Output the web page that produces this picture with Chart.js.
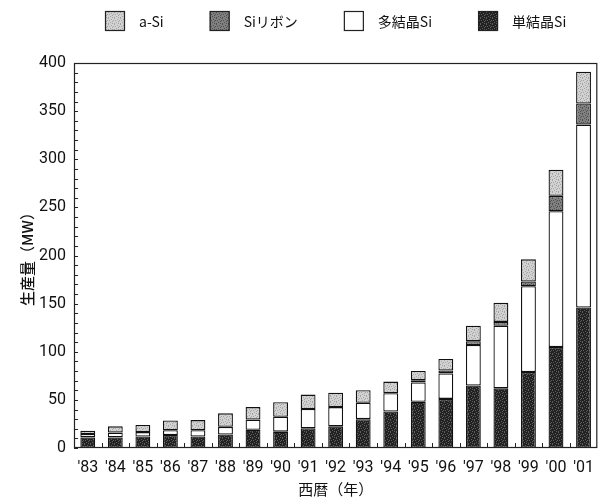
<!DOCTYPE html>
<html>
<head>
<meta charset="utf-8">
<script src="https://cdn.jsdelivr.net/npm/chart.js@4.4.1/dist/chart.umd.min.js"></script>
<style>
  html, body { margin: 0; padding: 0; background: #fff; }
  #wrap { width: 604px; height: 498px; }
</style>
</head>
<body>
<div id="wrap"><canvas id="c" width="604" height="498"></canvas></div>
<script>
// Annual production by cell type (MW)
const years    = ["'83","'84","'85","'86","'87","'88","'89","'90","'91","'92","'93","'94","'95","'96","'97","'98","'99","'00","'01"];
const monoSi   = [11, 11, 12, 13.5, 12, 14, 19, 17, 20.5, 22.5, 30, 38, 48, 51, 65, 62, 79, 105, 146];
const polySi   = [3.5, 5, 4.5, 5, 6.5, 8, 10.5, 15.5, 20, 20, 17, 19, 20, 26.5, 42, 65, 89, 141, 190];
const ribbonSi = [0, 0, 0, 0, 0, 0, 0, 0, 0, 0, 0, 0, 2.5, 3, 4, 4, 5, 16, 22];
const aSi      = [3.5, 6.5, 7.5, 10, 10.5, 14, 13, 15, 15, 15, 13, 12, 9.5, 12, 16, 20, 23, 27, 33];
const yTicks   = [0, 50, 100, 150, 200, 250, 300, 350, 400];

const canvas = document.getElementById('c');
const ctx = canvas.getContext('2d');

// stippled fills for the bar segments (fixed dot layout in a 6x6 tile)
const dotCells = [[0,0],[3,1],[1,2],[5,2],[2,4],[4,3],[0,5],[4,5]];
function stipple(base, dot) {
  const t = document.createElement('canvas');
  t.width = 6; t.height = 6;
  const g = t.getContext('2d');
  g.fillStyle = base; g.fillRect(0, 0, 6, 6);
  g.fillStyle = dot;
  dotCells.forEach(([cx, cy]) => g.fillRect(cx, cy, 1, 1));
  return ctx.createPattern(t, 'repeat');
}
const fillMono   = stipple('#222222', '#5e5e5e');
const fillPoly   = '#ffffff';
const fillRibbon = stipple('#808080', '#505050');
const fillASi    = stipple('#d2d2d2', '#a4a4a4');

const numFont = { family: "Roboto, sans-serif", size: 16 };
const jpFont  = "'Noto Sans CJK JP', sans-serif";

function ds(label, data, fill) {
  return {
    label, data,
    backgroundColor: fill,
    borderColor: '#111',
    borderWidth: 1.3,
    borderSkipped: false,
    categoryPercentage: 1.0,
    barPercentage: 0.54
  };
}

// frame, inward ticks and legend row
const decorations = {
  id: 'decorations',
  afterDatasetsDraw(chart) {
    const c = chart.ctx, a = chart.chartArea;
    const x = chart.scales.x, y = chart.scales.y;
    c.save();
    c.strokeStyle = '#222';
    c.lineWidth = 1;
    // ticks on the value axis, every 10
    c.beginPath();
    for (let v = 0; v <= 400; v += 10) {
      const py = Math.round(y.getPixelForValue(v)) + 0.5;
      c.moveTo(a.left, py); c.lineTo(a.left + 4, py);
    }
    // ticks between categories on the bottom axis
    for (let i = 0; i < years.length - 1; i++) {
      const px = Math.round((x.getPixelForValue(i) + x.getPixelForValue(i + 1)) / 2) + 0.5;
      c.moveTo(px, a.bottom); c.lineTo(px, a.bottom - 5);
    }
    c.stroke();
    c.lineWidth = 1.2;
    c.strokeRect(a.left + 0.5, a.top + 0.5, a.right - a.left - 1, a.bottom - a.top - 1);

    // legend
    const items = [3, 2, 1, 0].map(i => chart.data.datasets[i]);
    c.font = '14px ' + jpFont;
    c.textBaseline = 'middle';
    const box = 20, gapText = 14, gapItem = 46;
    const widths = items.map(d => box + gapText + c.measureText(d.label).width);
    const total = widths.reduce((s, w) => s + w, 0) + gapItem * (items.length - 1);
    let lx = Math.round((a.left + a.right) / 2 - total / 2);
    const cy = 21;
    items.forEach((d, k) => {
      c.fillStyle = d.backgroundColor;
      c.fillRect(lx, cy - box / 2, box, box);
      c.lineWidth = 1.2;
      c.strokeStyle = '#222';
      c.strokeRect(lx + 0.5, cy - box / 2 + 0.5, box - 1, box - 1);
      c.fillStyle = '#111';
      c.fillText(d.label, lx + box + gapText, cy + 1);
      lx += widths[k] + gapItem;
    });
    c.restore();
  }
};

new Chart(ctx, {
  type: 'bar',
  data: {
    labels: years,
    datasets: [
      ds('単結晶Si', monoSi, fillMono),
      ds('多結晶Si', polySi, fillPoly),
      ds('Siリボン', ribbonSi, fillRibbon),
      ds('a-Si', aSi, fillASi)
    ]
  },
  options: {
    responsive: false,
    animation: false,
    layout: { padding: { top: 63, right: 3, left: 0, bottom: 0 } },
    plugins: { legend: { display: false }, tooltip: { enabled: false } },
    scales: {
      x: {
        stacked: true,
        grid: { display: false, drawTicks: false },
        border: { display: false },
        ticks: { font: numFont, color: '#111', padding: 10, maxRotation: 0, autoSkip: false },
        title: { display: true, text: '西暦（年）', font: { family: jpFont, size: 15 }, color: '#111', padding: { top: 2, bottom: 0 } },
        afterFit(s) { s.height = 50; }
      },
      y: {
        stacked: true,
        min: 0, max: 400,
        afterBuildTicks(s) { s.ticks = yTicks.map(v => ({ value: v })); },
        grid: { display: false, drawTicks: false },
        border: { display: false },
        ticks: { font: numFont, color: '#111', padding: 8 },
        title: { display: true, text: '生産量（MW）', font: { family: jpFont, size: 15, weight: '500' }, color: '#111', padding: { top: 18, bottom: 0 } },
        afterFit(s) { s.width = 74; }
      }
    }
  },
  plugins: [decorations]
});
</script>
</body>
</html>
